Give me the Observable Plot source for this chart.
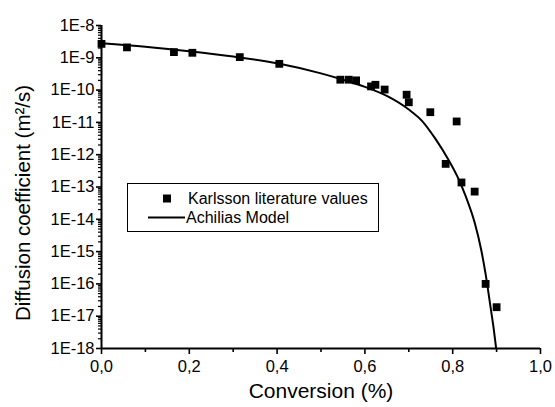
<!DOCTYPE html>
<html>
<head>
<meta charset="utf-8">
<script src="https://cdn.jsdelivr.net/npm/d3@7"></script>
<script src="https://cdn.jsdelivr.net/npm/@observablehq/plot@0.6"></script>
<style>
  html, body { margin: 0; padding: 0; background: #fff; }
  #chart { width: 555px; height: 407px; }
</style>
</head>
<body>
<div id="chart"></div>
<script>
// Karlsson literature values: conversion vs diffusion coefficient (m²/s)
const litConversion = [0, 0.058, 0.165, 0.207, 0.315, 0.405, 0.544, 0.563, 0.58,
  0.614, 0.624, 0.645, 0.695, 0.70, 0.749, 0.809, 0.784, 0.820, 0.850, 0.875, 0.90];
const litDiffusion = [2.7e-9, 2.1e-9, 1.5e-9, 1.43e-9, 1.05e-9, 6.5e-10, 2.1e-10, 2.1e-10, 2.0e-10,
  1.3e-10, 1.46e-10, 1.04e-10, 7.2e-11, 4.2e-11, 2.07e-11, 1.07e-11, 5.2e-13, 1.38e-13, 7.2e-14, 1.0e-16, 1.9e-17];

// Achilias model curve
const modelConversion = [0, 0.1, 0.2, 0.3, 0.4, 0.5, 0.55, 0.6, 0.65, 0.7, 0.73, 0.76,
  0.79, 0.81, 0.83, 0.85, 0.865, 0.875, 0.886, 0.893, 0.899];
const modelDiffusion = [2.8e-9, 2.2e-9, 1.6e-9, 1.1e-9, 6.8e-10, 3.3e-10, 2.1e-10, 1.26e-10,
  6.6e-11, 2.5e-11, 1.12e-11, 3.2e-12, 7.1e-13, 2.2e-13, 5.0e-14, 7.9e-15, 1.12e-15,
  2.0e-16, 2.0e-17, 4.5e-18, 1.0e-18];

// Axis ticks
const xMajor = [0, 0.2, 0.4, 0.6, 0.8, 1.0];
const xMinor = [0.1, 0.3, 0.5, 0.7, 0.9];
const yMajor = d3.range(-18, -7).map(e => Math.pow(10, e));
const yMinor = d3.range(-18, -8).flatMap(e => d3.range(2, 10).map(k => k * Math.pow(10, e)));

const xLabel = "Conversion (%)";
const yLabel = "Diffusion coefficient (m²/s)";
const legendItems = ["Karlsson literature values", "Achilias Model"];

const FONT = "Arial, 'Liberation Sans', sans-serif";

const lit = litConversion.map((x, i) => ({x, y: litDiffusion[i]}));
const model = modelConversion.map((x, i) => ({x, y: modelDiffusion[i]}));

const chart = Plot.plot({
  width: 555,
  height: 407,
  marginLeft: 101,
  marginRight: 15,
  marginTop: 25,
  marginBottom: 59,
  style: {fontFamily: FONT, fontSize: "16px", color: "#000", background: "#fff", overflow: "visible"},
  x: {domain: [0, 1]},
  y: {type: "log", domain: [1e-18, 1e-8]},
  marks: [
    Plot.axisX({ticks: xMajor, tickSize: 6, tickPadding: 6, strokeWidth: 1.6,
      tickFormat: d => d.toFixed(1).replace(".", ","), label: null, fontSize: 16.5}),
    Plot.axisX({ticks: xMinor, tickSize: 4, strokeWidth: 1.6, tickFormat: () => "", label: null}),
    Plot.axisY({ticks: yMajor, tickSize: 5, tickPadding: 2, strokeWidth: 1.6,
      tickFormat: d => "1E" + Math.round(Math.log10(d)), label: null, fontSize: 16.5}),
    Plot.axisY({ticks: yMinor, tickSize: 3, strokeWidth: 1.2, tickFormat: () => "", label: null}),
    Plot.ruleX([0], {strokeWidth: 2}),
    Plot.ruleY([1e-18], {strokeWidth: 2}),
    Plot.line(model, {x: "x", y: "y", stroke: "#000", strokeWidth: 2, curve: "monotone-x"}),
    Plot.dot(lit, {x: "x", y: "y", symbol: "square", r: 4.4, fill: "#000", stroke: null}),
    Plot.text([xLabel], {frameAnchor: "bottom", dy: 49, fontSize: 21, fill: "#000", textAnchor: "middle"}),
    Plot.text([yLabel], {frameAnchor: "left", dx: -78, dy: 16, rotate: -90, fontSize: 20.5, fill: "#000", textAnchor: "middle"})
  ]
});

document.getElementById("chart").appendChild(chart);

// Boxed legend inside the plot area
const svg = d3.select(chart);
const lg = svg.append("g").attr("font-family", FONT).attr("font-size", 16).attr("text-anchor", "start");
lg.append("rect").attr("x", 127.5).attr("y", 183.5).attr("width", 251).attr("height", 48)
  .attr("fill", "#fff").attr("stroke", "#000").attr("stroke-width", 1);
lg.append("rect").attr("x", 163).attr("y", 194.5).attr("width", 8).attr("height", 8).attr("fill", "#000");
lg.append("text").attr("x", 188).attr("y", 204).text(legendItems[0]);
lg.append("line").attr("x1", 148).attr("x2", 185).attr("y1", 217.5).attr("y2", 217.5)
  .attr("stroke", "#000").attr("stroke-width", 2);
lg.append("text").attr("x", 186).attr("y", 223).text(legendItems[1]);
</script>
</body>
</html>
